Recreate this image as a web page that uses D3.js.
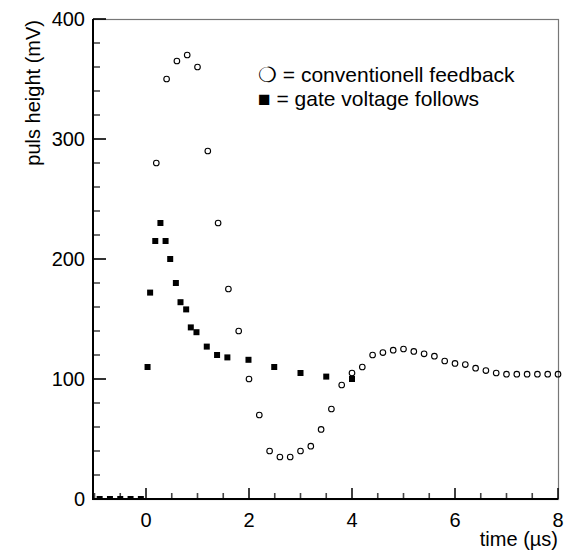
<!doctype html>
<html>
<head>
<meta charset="utf-8">
<script src="https://cdn.jsdelivr.net/npm/d3@7"></script>
<style>
  body { margin: 0; background: #fff; }
  svg { display: block; }
  text { font-family: "Liberation Sans", Arial, sans-serif; fill: #000; }
</style>
</head>
<body>
<svg width="566" height="552"></svg>
<script>
// conventionell feedback (open circles)
var convTime = [0.2, 0.4, 0.6, 0.8, 1.0, 1.2, 1.4, 1.6, 1.8, 2.0, 2.2, 2.4, 2.6, 2.8, 3.0, 3.2, 3.4, 3.6, 3.8, 4.0,
                4.2, 4.4, 4.6, 4.8, 5.0, 5.2, 5.4, 5.6, 5.8, 6.0, 6.2, 6.4, 6.6, 6.8, 7.0, 7.2, 7.4, 7.6, 7.8, 8.0];
var convHeight = [280, 350, 365, 370, 360, 290, 230, 175, 140, 100, 70, 40, 35, 35, 40, 44, 58, 75, 95, 105,
                  110, 120, 122, 124, 125, 123, 121, 119, 115, 113, 112, 109, 107, 105, 104, 104, 104, 104, 104, 104];

// gate voltage follows (filled squares)
var gateTime = [-0.9, -0.7, -0.5, -0.3, -0.1, 0.03, 0.08, 0.18, 0.28, 0.38, 0.47, 0.58, 0.67, 0.78, 0.87, 0.98,
                1.18, 1.38, 1.58, 1.99, 2.49, 3.0, 3.5, 4.0];
var gateHeight = [0, 0, 0, 0, 0, 110, 172, 215, 230, 215, 200, 180, 164, 158, 143, 139,
                  127, 120, 118, 116, 110, 105, 102, 100];

var xTicks = [0, 2, 4, 6, 8];
var yTicks = [0, 100, 200, 300, 400];
var xMinorTicks = [-1, -0.5, 0.5, 1, 1.5, 2.5, 3, 3.5, 4.5, 5, 5.5, 6.5, 7, 7.5];
var yMinorTicks = [20, 40, 60, 80, 120, 140, 160, 180, 220, 240, 260, 280, 320, 340, 360, 380];

var svg = d3.select("svg");
var pLeft = 93, pRight = 558, pTop = 19, pBottom = 499;

var x = d3.scaleLinear().domain([-1, 8]).range([94.5, 558]);
var y = d3.scaleLinear().domain([0, 400]).range([pBottom, pTop]);

// frame (gray)
svg.append("rect")
   .attr("x", pLeft).attr("y", pTop + 0.5)
   .attr("width", pRight - pLeft + 0.5).attr("height", pBottom - pTop)
   .style("fill", "none").attr("stroke", "#777").attr("stroke-width", 1.2);

// ticks as small filled bars, pointing inwards
var ticks = svg.append("g");
ticks.selectAll("rect.xminor").data(xMinorTicks).enter().append("rect")
   .attr("class", "xminor")
   .attr("x", function(d) { return x(d) - 0.8; }).attr("y", pBottom - 6)
   .attr("width", 1.6).attr("height", 6).attr("fill", "#444");
ticks.selectAll("rect.xmajor").data(xTicks).enter().append("rect")
   .attr("class", "xmajor")
   .attr("x", function(d) { return x(d) - 0.8; }).attr("y", pBottom - 11)
   .attr("width", 1.6).attr("height", 11).attr("fill", "#111");
ticks.selectAll("rect.yminor").data(yMinorTicks).enter().append("rect")
   .attr("class", "yminor")
   .attr("x", pLeft).attr("y", function(d) { return y(d) - 0.7; })
   .attr("width", 7).attr("height", 1.4).attr("fill", "#333");
ticks.selectAll("rect.ymajor").data(yTicks).enter().append("rect")
   .attr("class", "ymajor")
   .attr("x", pLeft).attr("y", function(d) { return y(d) - 0.8; })
   .attr("width", 13).attr("height", 1.6).attr("fill", "#000");

// axis lines
svg.append("line").attr("x1", pLeft).attr("x2", pLeft).attr("y1", pTop).attr("y2", pBottom + 1)
   .attr("stroke", "#000").attr("stroke-width", 2);
svg.append("line").attr("x1", pLeft).attr("x2", pRight).attr("y1", pBottom).attr("y2", pBottom)
   .attr("stroke", "#000").attr("stroke-width", 2);

// tick labels
svg.append("g").selectAll("text").data(xTicks).enter().append("text")
   .attr("x", function(d) { return x(d); }).attr("y", 527)
   .attr("text-anchor", "middle").attr("font-size", 20)
   .text(function(d) { return d; });
svg.append("g").selectAll("text").data(yTicks).enter().append("text")
   .attr("x", 85).attr("y", function(d) { return y(d) + 7; })
   .attr("text-anchor", "end").attr("font-size", 20)
   .text(function(d) { return d; });

// axis titles
svg.append("text").attr("x", 558).attr("y", 546).attr("text-anchor", "end")
   .attr("font-size", 20).text("time (\u00b5s)");
svg.append("text").attr("transform", "translate(40,20) rotate(-90)")
   .attr("text-anchor", "end").attr("font-size", 20).text("puls height (mV)");

// data
svg.append("clipPath").attr("id", "clip").append("rect")
   .attr("x", pLeft).attr("y", pTop - 5).attr("width", pRight - pLeft + 4).attr("height", pBottom - pTop + 5);
var plot = svg.append("g").attr("clip-path", "url(#clip)");

plot.selectAll("circle").data(convTime).enter().append("circle")
   .attr("cx", function(d) { return x(d); })
   .attr("cy", function(d, i) { return y(convHeight[i]); })
   .attr("r", 2.8)
   .attr("fill", "none").attr("stroke", "#000").attr("stroke-width", 1.1);

plot.selectAll("rect").data(gateTime).enter().append("rect")
   .attr("x", function(d) { return x(d) - 3; })
   .attr("y", function(d, i) { return y(gateHeight[i]) - 3; })
   .attr("width", 6).attr("height", 6).attr("fill", "#000");

// legend
var legend = svg.append("g").attr("font-size", 21);
legend.append("text").attr("x", 258).attr("y", 82).text("\u274d = conventionell feedback");
legend.append("text").attr("x", 258).attr("y", 106).text("\u25a0 = gate voltage follows");
</script>
</body>
</html>
